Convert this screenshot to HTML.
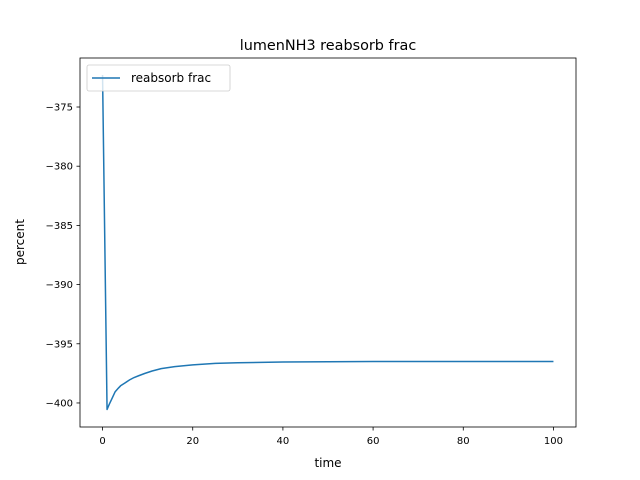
<!DOCTYPE html>
<html><head><meta charset="utf-8"><style>
body{margin:0;background:#fff}
svg{display:block;font-family:"DejaVu Sans","Liberation Sans",sans-serif}
</style></head><body>
<svg id="chart" width="640" height="480" viewBox="0 0 640 480">
<rect width="640" height="480" fill="#fff"/>
<text x="328" y="50" text-anchor="middle" font-size="14.4">lumenNH3 reabsorb frac</text>
<g id="plot"></g>
<text x="328" y="467" text-anchor="middle" font-size="12">time</text>
<text transform="translate(24,242) rotate(-90)" text-anchor="middle" font-size="12">percent</text>
</svg>
<script>
const times=[0,1,1.5,2,2.8,3.5,4,5,6,7,8,9.4,11,13,16,20,25,30,40,50,60,80,100];
const values=[-372.3,-400.55,-400.1,-399.7,-399.05,-398.75,-398.55,-398.3,-398.05,-397.85,-397.7,-397.5,-397.3,-397.1,-396.93,-396.78,-396.66,-396.6,-396.54,-396.52,-396.5,-396.5,-396.5];
const xTicks=[0,20,40,60,80,100];
const yTicks=[-375,-380,-385,-390,-395,-400];
const L=80,R=576,T=58,B=427;
const xmin=-5,xmax=105,ymin=-402.03,ymax=-370.86;
const sx=v=>L+(v-xmin)/(xmax-xmin)*(R-L);
const sy=v=>B-(v-ymin)/(ymax-ymin)*(B-T);
const NS="http://www.w3.org/2000/svg";
const g=document.getElementById('plot');
function mk(t,a){const e=document.createElementNS(NS,t);for(const k in a)e.setAttribute(k,a[k]);g.appendChild(e);return e;}
xTicks.forEach(v=>{
 const l=mk('line',{x1:sx(v),x2:sx(v),y1:B,y2:B+3.5,stroke:'#000','stroke-width':0.8});
 
 
 const t=mk('text',{x:sx(v),y:B+17,'text-anchor':'middle','font-size':10});
 t.textContent=v;
 
 
});
yTicks.forEach(v=>{
 const l=mk('line',{x1:L-3.5,x2:L,y1:sy(v),y2:sy(v),stroke:'#000','stroke-width':0.8});
 
 
 const t=mk('text',{x:L-7,y:sy(v)+3.5,'text-anchor':'end','font-size':10});
 t.textContent='\u2212'+Math.abs(v);
 
 
});
const p=mk('polyline',{points:times.map((t,i)=>sx(t)+','+sy(values[i])).join(' '),fill:'none',stroke:'#1f77b4','stroke-width':1.5,'stroke-linejoin':'round'});


const fr=mk('rect',{x:L,y:T,width:R-L,height:B-T,fill:'none',stroke:'#000','stroke-width':0.8});


const lg=mk('rect',{x:87,y:65,width:143,height:26,rx:2,fill:'#fff','fill-opacity':0.8,stroke:'#ccc','stroke-width':0.8});


const ll=mk('line',{x1:92,x2:120,y1:78,y2:78,stroke:'#1f77b4','stroke-width':1.5});


const lt=mk('text',{x:131,y:82,'font-size':12});
lt.textContent='reabsorb frac';


</script>
</body></html>
